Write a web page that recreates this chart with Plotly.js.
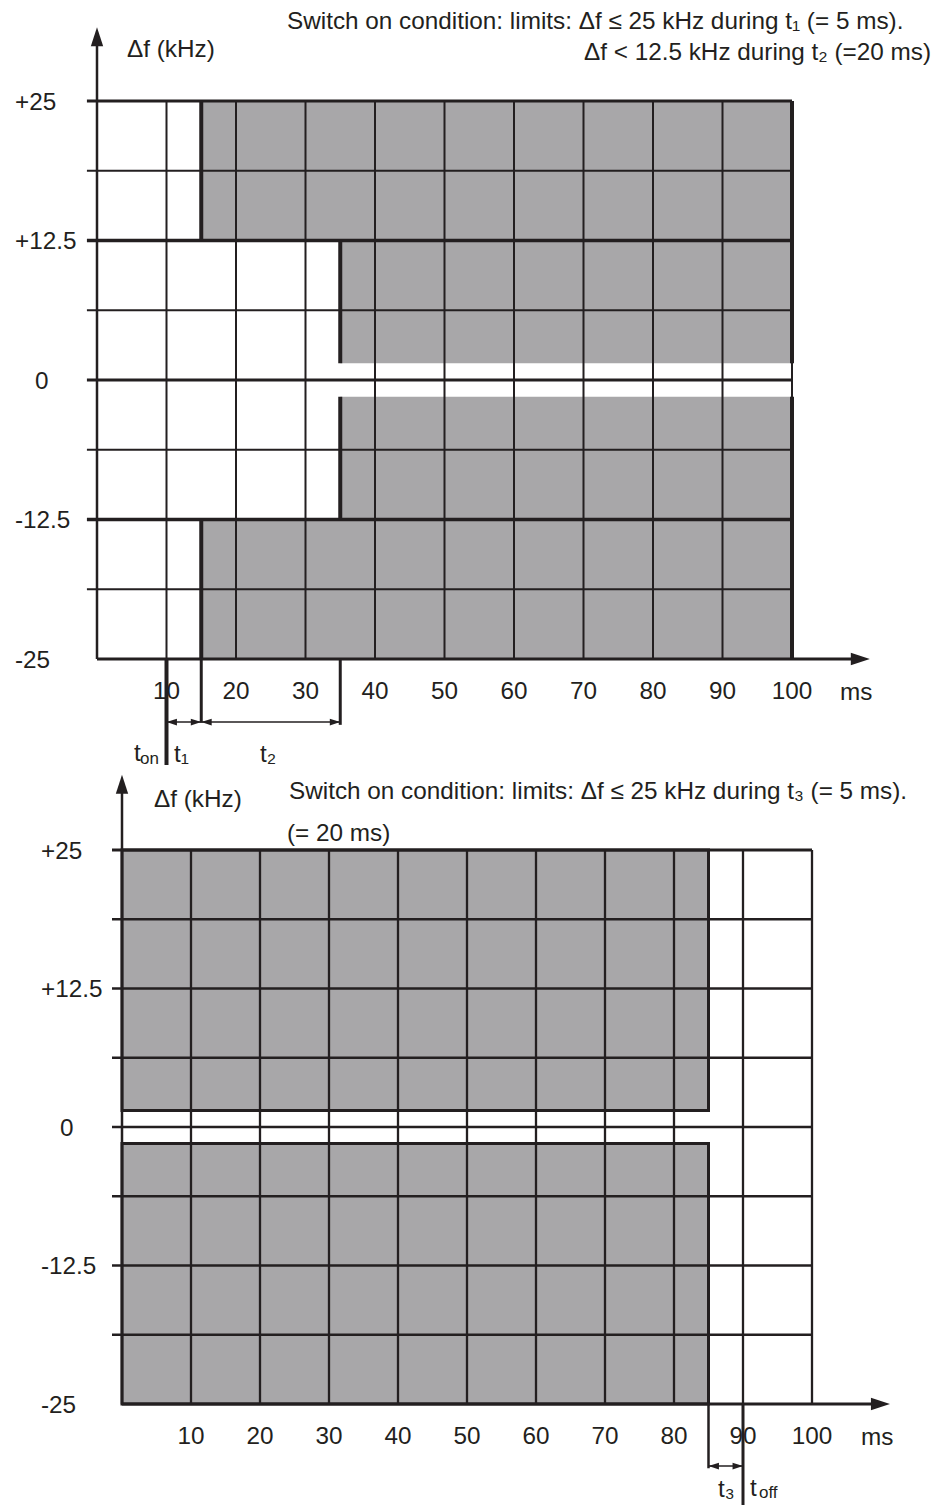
<!DOCTYPE html>
<html>
<head>
<meta charset="utf-8">
<script src="https://cdn.plot.ly/plotly-3.0.1.min.js"></script>
<style>html,body{margin:0;padding:0;background:#fff;}#chart{width:939px;height:1505px;}</style>
</head>
<body>
<div id="chart"></div>
<script>
// ---------- data ----------
const xTicks = [10, 20, 30, 40, 50, 60, 70, 80, 90, 100];
const xTickText = ['10', '20', '30', '40', '50', '60', '70', '80', '90', '100'];
const yGrid = [25, 18.75, 12.5, 6.25, 0, -6.25, -12.5, -18.75];
const yLabelVals = [25, 12.5, 0, -12.5, -25];
const yLabelText = ['+25', '+12.5', '0', '-12.5', '-25'];
const fMax = 25;        // kHz limit during t1 / t3
const fHalf = 12.5;     // kHz limit during t2
const fGap = 1.5;       // white band around 0 kHz
const tOn = 10, t1 = 5, t2 = 20;   // switch-on (ms)
const tOff = 90, t3 = 5;           // switch-off (ms)
const tEnd = 100;

// ---------- style ----------
const W = 939, H = 1505;
const FONT = 'Liberation Sans, Arial, Helvetica, sans-serif';
const INK = '#231f20';
const GRAY = '#a8a7a9';
const FS = 24.3;
const px = p => p / W;
const py = p => 1 - p / H;

const shapes = [];
const ann = [];
const traces = [];
function line(xr, yr, x0, y0, x1, y1, w) {
  shapes.push({type: 'line', xref: xr, yref: yr, x0, y0, x1, y1, line: {color: INK, width: w}});
}
function rect(xr, yr, x0, y0, x1, y1, bw) {
  shapes.push({type: 'rect', xref: xr, yref: yr, x0, y0, x1, y1, fillcolor: GRAY,
    line: {color: INK, width: bw || 0}});
}
function text(t, x, y, xa, size) {
  ann.push({text: t, x: x, y: y, xref: 'paper', yref: 'paper', xanchor: xa || 'left',
    yanchor: 'middle', showarrow: false, font: {family: FONT, size: size || FS, color: INK}});
}
// arrow heads as library markers (tip sits on the data point)
function heads(xa, ya, xs, ys, angles, size) {
  traces.push({x: xs, y: ys, xaxis: xa, yaxis: ya, mode: 'markers', hoverinfo: 'skip',
    marker: {symbol: 'arrow', size: size, angle: angles, color: INK, line: {width: 0}}});
}

// ================= TOP CHART (switch on) =================
const tA = tOn + t1, tB = tOn + t1 + t2;
rect('x', 'y', tA, fHalf, tEnd, fMax);
rect('x', 'y', tB, fGap, tEnd, fHalf);
rect('x', 'y', tB, -fHalf, tEnd, -fGap);
rect('x', 'y', tA, -fMax, tEnd, -fHalf);
xTicks.forEach(v => line('x', 'y', v, -fMax, v, fMax, 2));
yGrid.forEach(v => {
  const w = (v === 25 || v === 0) ? 3 : (Math.abs(v) === 12.5 ? 3.5 : 2);
  line('x', 'y', -1.45, v, tEnd, v, w);
});
line('x', 'y', tA, fHalf, tA, fMax, 4);
line('x', 'y', tA, -fMax, tA, -fHalf, 4);
line('x', 'y', tB, fGap, tB, fHalf, 4);
line('x', 'y', tB, -fHalf, tB, -fGap, 4);
line('x', 'y', tEnd, fGap, tEnd, fMax, 4);
line('x', 'y', tEnd, -fMax, tEnd, -fGap, 4);
// time markers below the axis
line('x', 'y', tOn, -fMax, tOn, -34.5, 4);
line('x', 'y', tA, -fMax, tA, -30.7, 3);
line('x', 'y', tB, -fMax, tB, -30.9, 3);
line('x', 'y', tOn, -30.65, tB, -30.65, 1.5);
heads('x', 'y', [tOn, tA, tA, tB], [-30.65, -30.65, -30.65, -30.65], [-90, 90, -90, 90], 11);
// axes
line('x', 'y', 0, -fMax, 110, -fMax, 3);
line('x', 'y', 0, -fMax, 0, 30.5, 2.5);
heads('x', 'y', [111.2, 0], [-fMax, 31.6], [90, 0], 20);

// ================= BOTTOM CHART (switch off) =================
const tC = tOff - t3;
rect('x2', 'y2', 0, fGap, tC, fMax, 3);
rect('x2', 'y2', 0, -fMax, tC, -fGap, 3);
xTicks.forEach(v => line('x2', 'y2', v, -fMax, v, fMax, 2.3));
yGrid.forEach(v => line('x2', 'y2', -1.45, v, tEnd, v, v === 25 ? 3 : 2.5));
line('x2', 'y2', tC, -fMax, tC, -30.8, 2.5);
line('x2', 'y2', tOff, -fMax, tOff, -34.2, 3);
line('x2', 'y2', tC, -30.6, tOff, -30.6, 1.5);
heads('x2', 'y2', [tC, tOff], [-30.6, -30.6], [-90, 90], 11);
line('x2', 'y2', 0, -fMax, 110, -fMax, 3);
line('x2', 'y2', 0, -fMax, 0, 30.8, 2.5);
heads('x2', 'y2', [111.3, 0], [-fMax, 31.8], [90, 0], 20);

// ---------- y labels ----------
yLabelVals.forEach((v, i) => {
  const zero = v === 0;
  ann.push({text: yLabelText[i], xref: 'paper', yref: 'y', x: zero ? px(42) : px(13), y: v,
    xanchor: zero ? 'center' : 'left', yanchor: 'middle', showarrow: false,
    font: {family: FONT, size: FS, color: INK}});
  ann.push({text: yLabelText[i], xref: 'paper', yref: 'y2', x: zero ? px(67) : px(39), y: v,
    xanchor: zero ? 'center' : 'left', yanchor: 'middle', showarrow: false,
    font: {family: FONT, size: FS, color: INK}});
});

// ---------- texts ----------
text('\u0394f (kHz)', px(171), py(48), 'center');
text('\u0394f < 12.5 kHz during t\u2082 (=20 ms)', px(933), py(52), 'right');
text('ms', px(856), py(691), 'center');
text('t', px(137), py(752), 'center');
text('on', px(149), py(758), 'center', 17);
text('t\u2081', px(181), py(753), 'center');
text('t\u2082', px(268), py(753), 'center');

text('\u0394f (kHz)', px(198), py(798), 'center');
text('Switch on condition: limits: \u0394f \u2264 25 kHz during t\u2083 (= 5 ms).', px(287), py(790), 'left');
text('(= 20 ms)', px(285), py(832), 'left');
text('ms', px(877), py(1436), 'center');
text('t\u2083', px(726), py(1488), 'center');
text('t', px(753), py(1487), 'center');
text('off', px(768), py(1492), 'center', 17);

const xAxisCommon = {
  showgrid: false, zeroline: false, showline: false, ticks: '',
  tickmode: 'array', tickvals: xTicks, ticktext: xTickText,
  tickfont: {family: FONT, size: FS, color: INK}, fixedrange: true
};
const yAxisCommon = {showgrid: false, zeroline: false, showline: false, showticklabels: false, ticks: '', fixedrange: true};

const layout = {
  width: W, height: H,
  margin: {l: 0, r: 0, t: 0, b: 0, pad: 0},
  paper_bgcolor: '#ffffff', plot_bgcolor: 'rgba(0,0,0,0)',
  showlegend: false,
  font: {family: FONT, size: FS, color: INK},
  title: {
    text: 'Switch on condition: limits: \u0394f \u2264 25 kHz during t\u2081 (= 5 ms).',
    x: px(287), xanchor: 'left', xref: 'paper',
    y: py(20), yanchor: 'middle', yref: 'container',
    font: {family: FONT, size: FS, color: INK}
  },
  xaxis: Object.assign({}, xAxisCommon, {domain: [0, 1], range: [-97 / 6.95, (W - 97) / 6.95],
    anchor: 'free', position: py(659), ticklabelstandoff: 15}),
  yaxis: Object.assign({}, yAxisCommon, {domain: [py(770), 1], range: [(380 - 770) / 11.16, 380 / 11.16]}),
  xaxis2: Object.assign({}, xAxisCommon, {domain: [0, 1], range: [-122 / 6.9, (W - 122) / 6.9],
    anchor: 'free', position: py(1404), ticklabelstandoff: 15}),
  yaxis2: Object.assign({}, yAxisCommon, {domain: [0, py(770)], range: [(1127 - 1505) / 11.08, (1127 - 770) / 11.08]}),
  shapes: shapes,
  annotations: ann
};

Plotly.newPlot('chart', traces, layout, {staticPlot: true, displayModeBar: false});
</script>
</body>
</html>
